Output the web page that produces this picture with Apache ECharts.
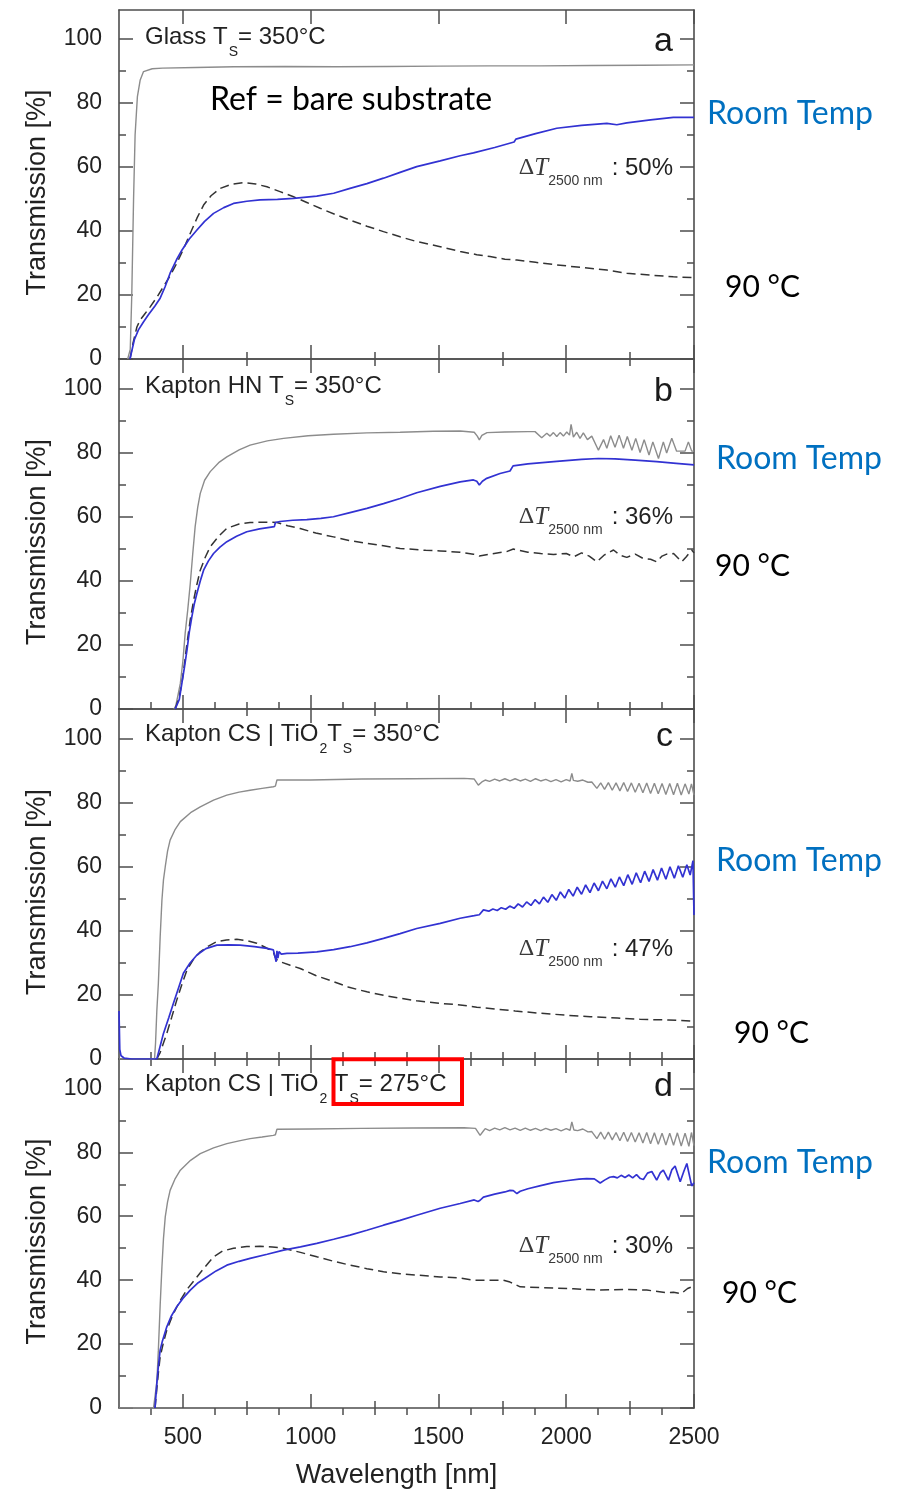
<!DOCTYPE html>
<html>
<head>
<meta charset="utf-8">
<script src="https://cdn.jsdelivr.net/npm/echarts@6/dist/echarts.min.js"></script>
<style>
  html, body { margin: 0; padding: 0; background: #ffffff; }
  #chart { width: 904px; height: 1491px; }
</style>
</head>
<body>
<div id="chart"></div>
<script>
// ---------------- data: transmission spectra [wavelength nm, T %] ----------------
const xMajorTicks = [500, 1000, 1500, 2000, 2500];
const xMinorTicks250 = [750, 1250, 1750, 2250];
const xMinorTicks125 = [375, 625, 750, 875, 1125, 1250, 1375, 1625, 1750, 1875, 2125, 2250, 2375];
const yMajorTicks = [0, 20, 40, 60, 80, 100];
const yMinorTicks = [10, 30, 50, 70, 90];

// (a) Glass, Ts = 350 °C
const glassSubstrate = [[284,0],[294,3],[300,20],[307,50],[313,70],[322,82],[333,87.2],[346,89.8],[380,90.7],[420,90.9],[550,91.1],[700,91.3],[900,91.4],[1100,91.3],[1300,91.4],[1500,91.5],[1700,91.6],[1900,91.6],[2100,91.7],[2300,91.8],[2500,91.9]];
const glassRoomTemp = [[293,0],[300,2.5],[310,6],[326,9.1],[345,11.5],[365,13.8],[390,16.5],[411,19],[430,22.5],[450,26.8],[475,31],[496,34],[525,37.5],[555,40.3],[585,43],[620,45.5],[660,47.3],[698,48.6],[750,49.3],[802,49.7],[870,49.9],[933,50.2],[1024,50.9],[1090,51.8],[1154,53.3],[1220,54.8],[1285,56.5],[1350,58.3],[1415,60.1],[1507,61.9],[1585,63.5],[1637,64.4],[1720,66.1],[1796,67.8],[1803,68.7],[1880,70.4],[1963,72.1],[2060,73],[2159,73.6],[2198,73.2],[2237,73.8],[2330,74.7],[2419,75.5],[2500,75.5]];
const glass90C = [[293,0],[305,5],[320,10],[333,12.2],[350,14],[372,16.3],[400,19.5],[424,22.6],[450,26],[476,29.9],[503,34.5],[529,39.3],[555,44],[581,48.1],[610,51],[646,53.3],[690,54.6],[737,55.1],[785,54.7],[829,53.8],[880,52.3],[933,50.7],[985,48.9],[1037,47.1],[1095,45.2],[1154,43.4],[1220,41.5],[1285,39.8],[1350,38.2],[1415,36.7],[1507,35.1],[1585,33.6],[1650,32.6],[1702,32],[1760,31.2],[1807,30.9],[1880,30.2],[1963,29.4],[2060,28.6],[2159,27.8],[2237,26.8],[2330,26.2],[2419,25.7],[2500,25.4]];

// (b) Kapton HN, Ts = 350 °C
const hnSubstrate = [[465,0],[472,1],[480,4],[490,8],[500,15],[509,23.7],[519,31],[529,39.3],[538,48],[548,57],[558,63],[568,67.4],[585,71.5],[607,74.2],[640,77],[672,78.8],[720,81],[763,82.5],[830,83.8],[894,84.6],[990,85.4],[1089,85.9],[1220,86.3],[1350,86.5],[1480,86.8],[1585,86.9],[1640,86.5],[1652,85.3],[1660,84.1],[1670,85.5],[1690,86.4],[1760,86.6],[1850,86.7],[1878,86.7],[1904,84.8],[1924,86.2],[1937,85.3],[1950,86.4],[1963,85.2],[1976,86.4],[1989,85.3],[2002,86.6],[2013,85.6],[2019,89.0],[2028,85.0],[2041,86.5],[2054,84.6],[2067,86.3],[2083,84.2],[2100,85.3],[2126,80.9],[2146,84.2],[2159,81.5],[2174,85.4],[2191,81.8],[2207,85.6],[2224,81.5],[2239,85.2],[2257,80.9],[2272,84.6],[2289,80.2],[2305,84.2],[2324,79.4],[2339,83.5],[2361,78.3],[2380,83.5],[2393,80.0],[2413,84.6],[2432,80.6],[2465,80.6],[2478,83.5],[2491,80.6],[2500,80.6]];
const hnRoomTemp = [[470,0],[476,0],[486,3],[496,8],[506,13],[516,18.4],[525,24],[535,28.8],[545,33],[555,36.2],[568,40],[581,43.4],[600,46.3],[620,48.6],[645,50.6],[672,52.3],[710,54],[750,55.4],[800,56.3],[858,57],[862,58.3],[880,58.6],[930,59],[985,59.2],[1040,59.6],[1089,60.1],[1150,61.3],[1220,62.7],[1285,64.2],[1350,65.8],[1415,67.6],[1507,69.6],[1585,71],[1637,71.6],[1650,71.2],[1660,70],[1672,71.2],[1689,72.1],[1741,73.6],[1780,74.4],[1787,74.6],[1792,76.0],[1850,76.6],[1963,77.4],[2060,78],[2126,78.3],[2191,78.2],[2270,77.8],[2354,77.3],[2430,76.8],[2500,76.3]];
const hn90C = [[470,0],[476,0],[486,4],[496,8],[506,14],[516,20.5],[529,28],[542,34],[555,39],[568,43.4],[588,47.5],[607,50.7],[640,54],[672,56.5],[720,57.8],[763,58.3],[820,58.4],[868,58.3],[910,57.3],[959,56.4],[1020,55],[1089,53.8],[1150,52.7],[1220,51.8],[1285,51],[1350,50.2],[1450,49.6],[1507,49.4],[1585,49.0],[1637,48.4],[1660,47.8],[1700,48.4],[1767,49.2],[1793,50],[1850,49],[1900,48.6],[1950,48.3],[2000,48.6],[2030,47.6],[2060,48.8],[2090,47.8],[2120,46],[2150,48.2],[2185,49.7],[2210,48.1],[2237,47.4],[2270,48.4],[2300,47.1],[2330,46.8],[2354,46],[2375,47.8],[2393,48.4],[2420,48.6],[2452,46],[2470,47.6],[2491,49.7],[2500,48.8]];

// (c) Kapton CS | TiO2, Ts = 350 °C
const cs350Substrate = [[250,0],[389,0],[393,5],[398,15],[404,23.6],[411,38],[418,49.7],[424,56],[431,60.1],[440,65],[450,68.4],[470,71.8],[490,74.2],[530,77],[568,78.8],[620,80.9],[672,82.5],[720,83.4],[763,84],[810,84.6],[854,85.1],[862,85.3],[868,87.2],[1000,87.2],[1200,87.5],[1400,87.6],[1600,87.7],[1640,87.5],[1656,85.6],[1670,86.6],[1683,87.2],[1700,86.8],[1720,87.5],[1740,86.9],[1760,87.6],[1780,86.9],[1800,87.6],[1820,86.9],[1840,87.5],[1860,86.8],[1880,87.6],[1900,86.9],[1920,87.4],[1940,86.7],[1960,87.3],[1980,86.6],[2000,87.3],[2015,86.9],[2022,89.3],[2028,87.1],[2045,86.8],[2065,87.2],[2085,86.5],[2100,86.6],[2120,84.6],[2135,86.3],[2150,84.3],[2165,86.4],[2180,84.0],[2195,86.3],[2210,83.8],[2225,86.4],[2240,83.6],[2255,86.3],[2270,83.4],[2285,86.2],[2300,83.2],[2315,86.3],[2330,83.0],[2345,86.2],[2360,82.9],[2375,86.1],[2390,82.7],[2405,86.1],[2420,82.6],[2435,86.2],[2450,82.5],[2465,86.0],[2480,82.8],[2490,86.0],[2500,82.5]];
const cs350RoomTemp = [[250,15],[253,3],[258,1],[270,0.3],[300,0],[398,0],[411,4],[424,8],[445,13],[463,17.4],[480,21.5],[502,26.8],[528,30],[555,32.5],[590,34.5],[633,35.6],[680,35.7],[724,35.6],[780,35.1],[829,34.6],[854,34.1],[860,33.5],[865,30.4],[868,33.8],[872,31.5],[876,33.6],[885,32.8],[907,33.0],[950,33.1],[1024,33.5],[1090,34.2],[1154,35.1],[1220,36.3],[1285,37.7],[1350,39.2],[1415,40.8],[1507,42.4],[1585,44.0],[1640,44.8],[1660,45.1],[1664,45.6],[1676,46.6],[1697,46.2],[1713,46.9],[1730,46.4],[1746,47.3],[1763,46.8],[1779,47.8],[1796,47.1],[1812,48.5],[1829,47.5],[1845,49.1],[1862,48.0],[1878,49.8],[1895,48.5],[1911,50.6],[1928,49.0],[1944,51.4],[1961,49.6],[1977,52.2],[1994,50.3],[2010,53.0],[2027,50.9],[2043,53.7],[2060,51.5],[2076,54.4],[2093,52.0],[2109,55.0],[2126,52.6],[2142,55.6],[2159,53.2],[2175,56.3],[2192,53.7],[2208,56.9],[2225,54.2],[2241,57.6],[2258,54.6],[2274,58.2],[2291,55.1],[2307,58.7],[2324,55.5],[2340,59.2],[2357,55.9],[2373,59.7],[2390,56.2],[2406,60.1],[2423,56.5],[2439,60.4],[2456,56.8],[2472,60.7],[2485,57.5],[2496,62],[2500,45]];
const cs350_90C = [[398,0],[411,2],[424,5],[437,8],[456,13],[476,18.4],[496,23.3],[516,27.8],[540,31],[568,33.5],[600,35.3],[633,36.7],[670,37.2],[711,37.4],[750,37],[789,36.2],[820,35],[854,33.5],[860,32],[870,30.8],[881,30.4],[920,29.3],[959,28.3],[1020,26.1],[1089,24.2],[1150,22.4],[1220,21],[1285,19.9],[1350,19],[1415,18.2],[1507,17.4],[1585,16.9],[1650,16.2],[1702,15.8],[1800,15],[1898,14.3],[2000,13.7],[2094,13.2],[2200,12.8],[2289,12.4],[2400,12.2],[2500,11.8]];

// (d) Kapton CS | TiO2, Ts = 275 °C
const cs275Substrate = [[250,0],[385,0],[391,0.4],[398,8],[404,18.1],[411,32],[418,44.2],[424,53],[431,59.8],[440,64.5],[450,68.1],[470,71.8],[490,74.4],[530,77.5],[568,79.6],[620,81.4],[672,82.7],[720,83.6],[763,84.3],[810,84.8],[854,85.3],[862,85.5],[868,87.2],[1000,87.3],[1200,87.5],[1400,87.6],[1600,87.7],[1645,87.5],[1663,85.3],[1675,86.6],[1683,87.4],[1700,86.8],[1720,87.6],[1740,87],[1760,87.7],[1780,87],[1800,87.6],[1820,86.9],[1840,87.6],[1860,86.9],[1880,87.5],[1900,86.8],[1920,87.5],[1940,86.9],[1960,87.4],[1980,86.7],[2000,87.4],[2015,86.9],[2022,89.5],[2030,87.0],[2045,86.8],[2065,87.3],[2085,86.4],[2100,86.5],[2120,84.3],[2135,86.3],[2150,84.1],[2165,86.3],[2180,83.9],[2195,86.2],[2210,83.6],[2225,86.3],[2240,83.4],[2255,86.2],[2270,83.2],[2285,86.1],[2300,82.9],[2315,86.2],[2330,82.7],[2345,86.1],[2360,82.5],[2375,86.0],[2390,82.3],[2405,86.0],[2420,82.2],[2435,86.1],[2450,82.0],[2465,86.0],[2480,81.9],[2490,86.2],[2500,82.1]];
const cs275RoomTemp = [[391,0],[398,7.7],[404,13],[411,18.1],[420,21],[437,25.4],[455,28.8],[476,31.7],[500,34.3],[529,36.9],[560,39.2],[594,41],[630,42.9],[672,44.7],[720,45.9],[763,46.8],[830,48.1],[894,49.4],[960,50.4],[1024,51.5],[1090,52.8],[1154,54.1],[1220,55.6],[1285,57.2],[1350,58.7],[1415,60.3],[1507,62.5],[1585,64.0],[1640,65.1],[1655,64.6],[1663,65.0],[1676,66],[1720,66.9],[1760,67.6],[1780,68.1],[1793,68.0],[1807,67.1],[1820,67.8],[1850,68.6],[1900,69.6],[1950,70.5],[2000,71.1],[2050,71.6],[2080,71.8],[2110,71.7],[2133,70.4],[2150,71.3],[2170,72.2],[2185,72.4],[2200,72.0],[2215,72.8],[2230,72.1],[2245,72.9],[2260,72.0],[2275,73.0],[2290,71.8],[2302,71.5],[2318,73.5],[2335,74.0],[2354,71.3],[2368,73.6],[2380,74.4],[2400,71.3],[2413,74.5],[2426,75.7],[2446,70.8],[2460,74.0],[2472,76.5],[2491,69.5],[2500,70.5]];
const cs275_90C = [[391,0],[398,6],[404,11],[411,16],[424,20.5],[437,24.4],[460,29],[490,33.75],[520,37.5],[555,41],[585,44],[620,47.3],[655,49.1],[698,50],[750,50.5],[802,50.6],[850,50.4],[894,50],[960,48.7],[1024,47.3],[1090,45.9],[1154,44.7],[1220,43.6],[1285,42.6],[1350,42],[1415,41.6],[1507,41],[1585,40.7],[1637,40],[1700,40],[1754,40],[1780,39.4],[1820,37.9],[1898,37.7],[2028,37.3],[2133,36.9],[2237,37.1],[2315,36.9],[2393,36.1],[2420,36.2],[2450,35.8],[2475,37.4],[2500,38.2]];

// panel texts
const panelTitles = [
  '{m|Glass T}{s|S}{m|= 350°C}',
  '{m|Kapton HN T}{s|S}{m|= 350°C}',
  '{m|Kapton CS | TiO}{s|2}{m|T}{s|S}{m|= 350°C}',
  '{m|Kapton CS | TiO}{s|2}{m| T}{s|S}{m|= 275°C}'
];
const panelLetters = ['a', 'b', 'c', 'd'];
const deltaT2500 = ['50%', '36%', '47%', '30%'];
const roomTempLabel = 'Room Temp';
const hotLabel = '90 °C';
const refNote = 'Ref = bare substrate';

// ---------------- layout and style ----------------
const SANS = "'Liberation Sans', Arial, Helvetica, sans-serif";
const SERIF = "'Liberation Serif', 'Times New Roman', serif";
const CAL = "Lato, 'Open Sans', sans-serif";
const AXIS = '#4d4d4d';
const TXT = '#222222';
const PLOT_LEFT = 119, PLOT_W = 575;
const panelTop = [10, 359, 709, 1059];
const panelH = [349, 350, 350, 349];
const yMax = [109.05, 109.4, 109.4, 109.2];
const bottomMinor = [xMinorTicks250, xMinorTicks125, xMinorTicks125, xMinorTicks250];
const topMinor = [xMinorTicks250, xMinorTicks250, xMinorTicks125, xMinorTicks125];
const titleY = [37, 386, 734, 1084];
const letterY = [42, 392, 737, 1087];
const deltaY = [168, 517, 949, 1246];
const roomTempPos = [[707, 114], [716, 459], [716, 861], [707, 1163]];
const hotPos = [[725, 287], [715, 566], [734, 1033], [722, 1293]];

const series = panelsData();
function panelsData() {
  const sets = [
    [glassSubstrate, glassRoomTemp, glass90C],
    [hnSubstrate, hnRoomTemp, hn90C],
    [cs350Substrate, cs350RoomTemp, cs350_90C],
    [cs275Substrate, cs275RoomTemp, cs275_90C]
  ];
  const out = [];
  sets.forEach((s, i) => {
    const common = { type: 'line', xAxisIndex: 4 * i, yAxisIndex: 4 * i, symbol: 'none', silent: true, animation: false, clip: true };
    out.push({ ...common, name: 'substrate', data: s[0], lineStyle: { color: '#8c8c8c', width: 1.4 }, z: 2 });
    out.push({ ...common, name: '90 °C', data: s[2], lineStyle: { color: '#333333', width: 1.5, type: [9, 5] }, z: 3 });
    out.push({ ...common, name: 'Room Temp', data: s[1], lineStyle: { color: '#3232d2', width: 1.7 }, z: 4 });
  });
  return out;
}

const grids = [], xAxes = [], yAxes = [];
for (let i = 0; i < 4; i++) {
  grids.push({ left: PLOT_LEFT, width: PLOT_W, top: panelTop[i], height: panelH[i], containLabel: false });
  const line = { show: true, onZero: false, lineStyle: { color: AXIS, width: 1.6 } };
  const tickMajor = (vals) => ({ show: true, inside: true, length: 14, customValues: vals, lineStyle: { color: AXIS, width: 1.5 } });
  const tickMinor = (vals) => ({ show: true, inside: true, length: 7, customValues: vals, lineStyle: { color: AXIS, width: 1.5 } });
  const xb = { type: 'value', gridIndex: i, min: 250, max: 2500, splitLine: { show: false } };
  xAxes.push({
    ...xb, position: 'bottom', axisLine: line, axisTick: tickMajor(xMajorTicks),
    axisLabel: { show: i === 3, customValues: xMajorTicks, margin: 18, fontSize: 23, fontFamily: SANS, color: TXT, formatter: (v) => String(v) },
    name: i === 3 ? 'Wavelength [nm]' : '', nameLocation: 'middle', nameGap: 54,
    nameTextStyle: { fontSize: 27, fontFamily: SANS, color: TXT, padding: [0, 20, 0, 0] }
  });
  xAxes.push({ ...xb, position: 'bottom', axisLine: { show: false }, axisTick: tickMinor(bottomMinor[i]), axisLabel: { show: false } });
  xAxes.push({ ...xb, position: 'top', axisLine: line, axisTick: tickMajor(xMajorTicks), axisLabel: { show: false } });
  xAxes.push({ ...xb, position: 'top', axisLine: { show: false }, axisTick: tickMinor(topMinor[i]), axisLabel: { show: false } });

  const yb = { type: 'value', gridIndex: i, min: 0, max: yMax[i], splitLine: { show: false } };
  yAxes.push({
    ...yb, position: 'left', axisLine: line, axisTick: tickMajor(yMajorTicks),
    axisLabel: { customValues: yMajorTicks, margin: 17, fontSize: 23, fontFamily: SANS, color: TXT, formatter: (v) => String(v) },
    name: 'Transmission [%]', nameLocation: 'middle', nameGap: 68, nameMoveOverlap: false,
    nameTextStyle: { fontSize: 27, fontFamily: SANS, color: TXT, padding: [0, 16, 0, 0] }
  });
  yAxes.push({ ...yb, position: 'left', axisLine: { show: false }, axisTick: tickMinor(yMinorTicks), axisLabel: { show: false } });
  yAxes.push({ ...yb, position: 'right', axisLine: line, axisTick: tickMajor(yMajorTicks), axisLabel: { show: false } });
  yAxes.push({ ...yb, position: 'right', axisLine: { show: false }, axisTick: tickMinor(yMinorTicks), axisLabel: { show: false } });
}

// annotation texts
const graphics = [];
for (let i = 0; i < 4; i++) {
  graphics.push({
    type: 'text', z: 50, style: {
      x: 145, y: titleY[i], verticalAlign: 'middle', align: 'left',
      text: panelTitles[i],
      rich: {
        m: { fontSize: 24, fontFamily: SANS, fill: TXT },
        s: { fontSize: 14, fontFamily: SANS, fill: TXT, padding: [30, 0, 0, 1] }
      }
    }
  });
  graphics.push({
    type: 'text', z: 50, style: {
      x: 673, y: letterY[i], align: 'right', verticalAlign: 'middle',
      text: panelLetters[i], fontSize: 34, fontFamily: SANS, fill: '#1a1a1a'
    }
  });
  graphics.push({
    type: 'text', z: 50, style: {
      x: 673, y: deltaY[i], align: 'right', verticalAlign: 'middle',
      text: '{D|Δ}{T|T}{n|2500 nm}{v|: ' + deltaT2500[i] + '}',
      rich: {
        D: { fontSize: 24, fontFamily: SERIF, fill: '#3a3a3a' },
        T: { fontSize: 25, fontFamily: SERIF, fontStyle: 'italic', fill: '#3a3a3a' },
        n: { fontSize: 14, fontFamily: SANS, fill: '#3a3a3a', padding: [27, 0, 0, 0] },
        v: { fontSize: 24, fontFamily: SANS, fill: '#222222', padding: [0, 0, 0, 9] }
      }
    }
  });
  graphics.push({
    type: 'text', z: 50, style: {
      x: roomTempPos[i][0], y: roomTempPos[i][1], verticalAlign: 'middle', align: 'left',
      text: roomTempLabel, fontSize: 32, fontFamily: CAL, fill: '#0070c0'
    }
  });
  graphics.push({
    type: 'text', z: 50, style: {
      x: hotPos[i][0], y: hotPos[i][1], verticalAlign: 'middle', align: 'left',
      text: hotLabel, fontSize: 30, fontFamily: CAL, fill: '#000000'
    }
  });
}
graphics.push({
  type: 'text', z: 50, style: {
    x: 210, y: 100, verticalAlign: 'middle', align: 'left',
    text: refNote, fontSize: 32, fontFamily: CAL, fill: '#000000'
  }
});
// highlight box around the deposition temperature of panel d
graphics.push({
  type: 'rect', z: 60,
  shape: { x: 333.5, y: 1059.3, width: 128.5, height: 44.7 },
  style: { fill: 'none', stroke: '#ff0000', lineWidth: 4 }
});

const chart = echarts.init(document.getElementById('chart'), null, { renderer: 'canvas' });
chart.setOption({
  animation: false,
  backgroundColor: '#ffffff',
  grid: grids,
  xAxis: xAxes,
  yAxis: yAxes,
  series: series,
  graphic: graphics
});
</script>
</body>
</html>
